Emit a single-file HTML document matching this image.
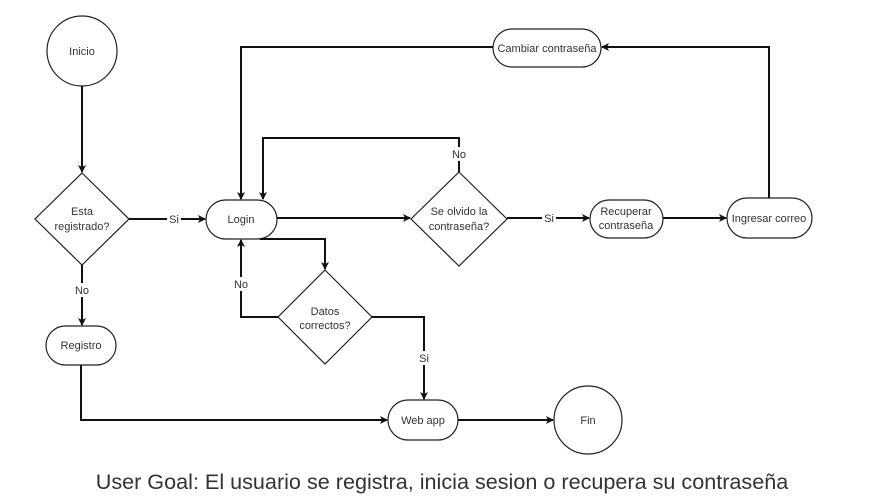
<!DOCTYPE html>
<html><head><meta charset="utf-8"><style>
html,body{margin:0;padding:0;background:#fff;}
svg text{font-family:"Liberation Sans",sans-serif;fill:#333;}
</style></head><body>
<svg width="886" height="498" viewBox="0 0 886 498" xmlns="http://www.w3.org/2000/svg">
<defs><marker id="a" markerWidth="8" markerHeight="8" refX="7" refY="4" orient="auto" markerUnits="userSpaceOnUse"><path d="M0,0 L8,4 L0,8 L2,4 Z" fill="#111"/></marker></defs>
<g fill="#fff" stroke="#222" stroke-width="1.2">
<circle cx="82" cy="51" r="35"/>
<polygon points="82,173 129,219 82,265 35,219"/>
<rect x="206" y="200" width="71" height="39" rx="19.5"/>
<rect x="493" y="29" width="108" height="38" rx="19"/>
<polygon points="459,172 507,219 459,266 411,219"/>
<rect x="590" y="200" width="73" height="38" rx="19"/>
<rect x="727" y="198" width="85" height="40" rx="20"/>
<polygon points="325,270 372,317 325,364 278,317"/>
<rect x="388" y="400" width="70" height="40" rx="20"/>
<circle cx="588" cy="420" r="34"/>
<rect x="46" y="326" width="70" height="39" rx="19.5"/>
</g>
<g fill="none" stroke="#111" stroke-width="2" marker-end="url(#a)">
<path d="M82,86 V172"/>
<path d="M129,219 H205"/>
<path d="M82,265 V325"/>
<path d="M81,365 V420 H387"/>
<path d="M277,218 H410"/>
<path d="M459,172 V138 H263 V199"/>
<path d="M507,218 H589"/>
<path d="M663,218 H726"/>
<path d="M769,198 V47 H602"/>
<path d="M493,47 H241 V199"/>
<path d="M260,239 H325 V269"/>
<path d="M278,317 H241 V240"/>
<path d="M372,317 H424 V399"/>
<path d="M458,420 H553"/>
</g>
<g font-size="11" text-anchor="middle">
<rect x="167" y="212" width="14" height="14" fill="#fff"/><text x="174" y="223">Si</text>
<rect x="542" y="211" width="14" height="14" fill="#fff"/><text x="549" y="222">Si</text>
<rect x="74" y="283" width="16" height="14" fill="#fff"/><text x="82" y="294">No</text>
<rect x="451" y="147" width="16" height="14" fill="#fff"/><text x="459" y="158">No</text>
<rect x="233" y="277" width="16" height="14" fill="#fff"/><text x="241" y="288">No</text>
<rect x="417" y="351" width="14" height="14" fill="#fff"/><text x="424" y="362">Si</text>
<text x="82" y="55">Inicio</text>
<text x="82" y="215">Esta</text><text x="82" y="230">registrado?</text>
<text x="241" y="223">Login</text>
<text x="547" y="52">Cambiar contraseña</text>
<text x="459" y="215">Se olvido la</text><text x="459" y="230">contraseña?</text>
<text x="626" y="215">Recuperar</text><text x="626" y="229">contraseña</text>
<text x="769" y="222">Ingresar correo</text>
<text x="325" y="315">Datos</text><text x="325" y="329">correctos?</text>
<text x="423" y="424">Web app</text>
<text x="588" y="424">Fin</text>
<text x="81" y="349">Registro</text>
</g>
<text x="442" y="489" font-size="21.6" text-anchor="middle" fill="#222">User Goal: El usuario se registra, inicia sesion o recupera su contraseña</text>
</svg>
</body></html>
